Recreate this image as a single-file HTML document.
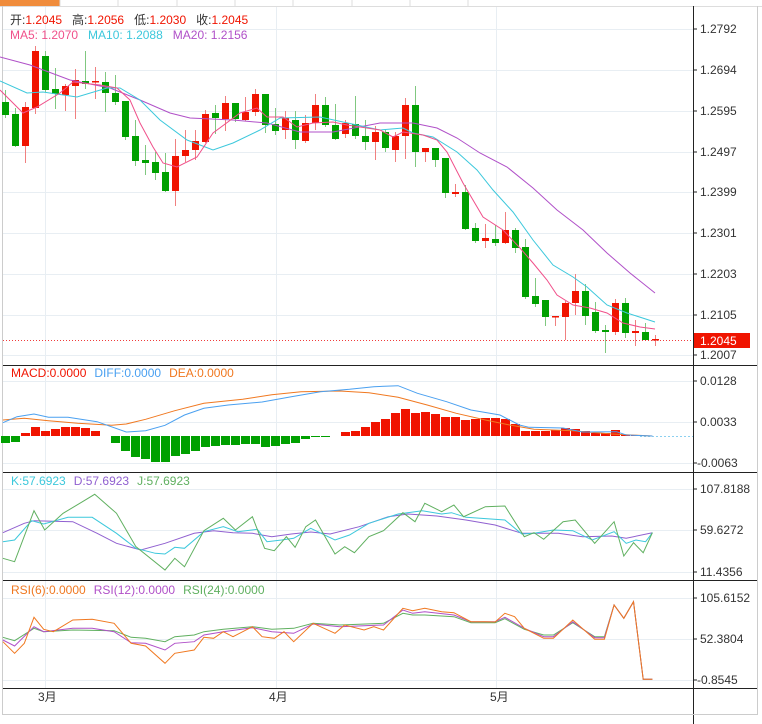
<!DOCTYPE html>
<html><head><meta charset="utf-8"><style>
body{margin:0;background:#fff;width:762px;height:724px;overflow:hidden;font-family:"Liberation Sans","Noto Sans CJK SC",sans-serif}
svg{position:absolute;left:0;top:0}
text{font-family:"Liberation Sans","Noto Sans CJK SC",sans-serif;font-size:12px}
</style></head><body>
<svg id="s" width="762" height="724" xmlns="http://www.w3.org/2000/svg">
<rect x="0" y="0" width="762" height="724" fill="#fff"/>
<rect x="0" y="0" width="60" height="6" fill="#f08c3c"/>
<line x1="60" y1="0" x2="60" y2="6" stroke="#ddd"/><line x1="118" y1="0" x2="118" y2="6" stroke="#ddd"/><line x1="177" y1="0" x2="177" y2="6" stroke="#ddd"/><line x1="235" y1="0" x2="235" y2="6" stroke="#ddd"/><line x1="293" y1="0" x2="293" y2="6" stroke="#ddd"/><line x1="352" y1="0" x2="352" y2="6" stroke="#ddd"/><line x1="410" y1="0" x2="410" y2="6" stroke="#ddd"/><line x1="468" y1="0" x2="468" y2="6" stroke="#ddd"/>
<line x1="0" y1="6.5" x2="762" y2="6.5" stroke="#ddd"/>
<line x1="2.5" y1="6" x2="2.5" y2="715" stroke="#ccc"/>
<line x1="757.5" y1="6" x2="757.5" y2="715" stroke="#ccc"/>
<g id="grid" stroke="#e8eef3" stroke-width="1"></g>
<g id="plot"></g>
<!-- axes -->
<line x1="693.5" y1="6" x2="693.5" y2="724" stroke="#222"/>
<line x1="3" y1="365.5" x2="757" y2="365.5" stroke="#222"/>
<line x1="3" y1="472.5" x2="757" y2="472.5" stroke="#222"/>
<line x1="3" y1="580.5" x2="757" y2="580.5" stroke="#222"/>
<line x1="3" y1="688.5" x2="757" y2="688.5" stroke="#222"/>
<line x1="3" y1="714.5" x2="757" y2="714.5" stroke="#ccc"/>
<g fill="#333">
<text x="700" y="33">1.2792</text><text x="700" y="74">1.2694</text><text x="700" y="115">1.2595</text><text x="700" y="156">1.2497</text><text x="700" y="196">1.2399</text><text x="700" y="237">1.2301</text><text x="700" y="278">1.2203</text><text x="700" y="319">1.2105</text><text x="700" y="359">1.2007</text>
<text x="700" y="385">0.0128</text><text x="700" y="426">0.0033</text><text x="697" y="467">-0.0063</text>
<text x="700" y="493">107.8188</text><text x="700" y="534">59.6272</text><text x="700" y="576">11.4356</text>
<text x="700" y="602">105.6152</text><text x="700" y="643">52.3804</text><text x="697" y="684">-0.8545</text>
<text x="38" y="701">3月</text><text x="269" y="701">4月</text><text x="490" y="701">5月</text>
</g>
<g stroke="#222"><line x1="693" y1="29" x2="697" y2="29"/><line x1="693" y1="70" x2="697" y2="70"/><line x1="693" y1="111" x2="697" y2="111"/><line x1="693" y1="152" x2="697" y2="152"/><line x1="693" y1="192" x2="697" y2="192"/><line x1="693" y1="233" x2="697" y2="233"/><line x1="693" y1="274" x2="697" y2="274"/><line x1="693" y1="315" x2="697" y2="315"/><line x1="693" y1="355" x2="697" y2="355"/><line x1="693" y1="381" x2="697" y2="381"/><line x1="693" y1="422" x2="697" y2="422"/><line x1="693" y1="463" x2="697" y2="463"/><line x1="693" y1="489" x2="697" y2="489"/><line x1="693" y1="530" x2="697" y2="530"/><line x1="693" y1="572" x2="697" y2="572"/><line x1="693" y1="598" x2="697" y2="598"/><line x1="693" y1="639" x2="697" y2="639"/><line x1="693" y1="680" x2="697" y2="680"/></g>
<line x1="3" y1="340.5" x2="693" y2="340.5" stroke="#f03c3c" stroke-dasharray="1,2"/>
<rect x="694" y="333" width="56" height="15" fill="#f01400"/>
<text x="700" y="345" fill="#fff">1.2045</text>
<text x="10" y="24"><tspan fill="#333">开:</tspan><tspan fill="#f01400">1.2045</tspan><tspan fill="#333" dx="10">高:</tspan><tspan fill="#f01400">1.2056</tspan><tspan fill="#333" dx="10">低:</tspan><tspan fill="#f01400">1.2030</tspan><tspan fill="#333" dx="10">收:</tspan><tspan fill="#f01400">1.2045</tspan></text>
<text x="10" y="39"><tspan fill="#f0508a">MA5: 1.2070</tspan><tspan fill="#3cc8dc" dx="10">MA10: 1.2088</tspan><tspan fill="#b050c8" dx="10">MA20: 1.2156</tspan></text>
<text x="11" y="377" font-size="11"><tspan fill="#f01400">MACD:0.0000</tspan><tspan fill="#4aa0f0" dx="8">DIFF:0.0000</tspan><tspan fill="#f07820" dx="8">DEA:0.0000</tspan></text>
<text x="11" y="485" font-size="11"><tspan fill="#3cc8dc">K:57.6923</tspan><tspan fill="#9060d0" dx="8">D:57.6923</tspan><tspan fill="#60b060" dx="8">J:57.6923</tspan></text>
<text x="11" y="594" font-size="11"><tspan fill="#f07820">RSI(6):0.0000</tspan><tspan fill="#b050c8" dx="8">RSI(12):0.0000</tspan><tspan fill="#60b060" dx="8">RSI(24):0.0000</tspan></text>
</svg>
<script>
var NS="http://www.w3.org/2000/svg",plot=document.getElementById('plot'),grid=document.getElementById('grid');
function el(p,t,a){var e=document.createElementNS(NS,t);for(var k in a)e.setAttribute(k,a[k]);p.appendChild(e);return e;}
[29,70,111,152,192,233,274,315,355,381,422,463,489,530,572,598,639,680].forEach(function(y){el(grid,'line',{x1:3,x2:693,y1:y+.5,y2:y+.5});});
[45,276,496].forEach(function(x){el(grid,'line',{x1:x+.5,x2:x+.5,y1:7,y2:688});});
// candles: color(1 red,0 green), bodyTop, bodyBot, wickTop, wickBot
var C=[[0,102,115,90,118],[0,114,146,108,147],[1,107,146,102,163],[1,51,108,46,114],[0,56,90,51,92],[0,89,94,68,109],[1,86,95,84,111],[1,80,86,69,119],[0,81,84,51,89],[1,81,82,67,99],[0,82,93,72,112],[0,93,102,75,105],[0,101,137,101,140],[0,136,161,120,166],[0,160,163,145,175],[0,162,173,152,180],[0,172,191,153,192],[1,156,191,139,206],[1,150,156,130,162],[1,141,150,130,160],[1,114,142,110,143],[0,113,118,105,134],[1,103,119,96,131],[0,103,119,103,122],[1,112,120,97,121],[1,94,112,89,116],[0,94,125,94,133],[0,124,131,108,135],[1,118,130,111,139],[0,120,140,111,149],[1,123,141,115,143],[1,105,123,94,130],[0,105,125,97,127],[0,125,139,104,140],[1,123,134,120,138],[0,124,136,96,139],[0,136,142,120,150],[1,132,142,126,160],[0,132,148,130,152],[1,136,150,132,162],[1,105,136,98,159],[0,105,152,86,167],[1,148,152,148,162],[0,148,160,148,167],[0,158,193,158,198],[1,192,194,184,197],[0,192,229,185,230],[0,228,241,223,243],[1,238,241,224,248],[0,239,243,225,246],[1,230,243,212,244],[0,230,248,228,253],[0,247,297,239,299],[0,296,304,278,307],[0,300,317,300,326],[1,316,317,316,326],[1,303,317,301,340],[1,291,303,274,315],[0,291,316,284,325],[0,312,331,302,333],[0,330,332,325,353],[1,303,332,299,335],[0,303,333,298,338],[1,331,333,320,346],[0,332,340,323,341],[1,339,340,335,346]];
C.forEach(function(c,i){var x=5.5+10*i,col=c[0]?'#f01400':'#00a000',wc=c[0]?'#f08080':'#80c880';
el(plot,'line',{x1:x,x2:x,y1:c[3],y2:c[4],stroke:wc});
el(plot,'rect',{x:x-3.5,y:c[1],width:7,height:Math.max(1.5,c[2]-c[1]),fill:col});});
function pl(pts,col,conv){var s=pts.map(function(p){return conv?[(p[0]/2.06).toFixed(1),(p[1]/3+360).toFixed(1)]:p;}).join(' ');el(plot,'polyline',{points:s,fill:'none',stroke:col,'stroke-width':1});}
pl([[0,57],[30,65],[70,80],[110,88],[140,100],[170,113],[190,118],[233,120],[267,123],[300,132],[333,132],[380,123],[413,123],[437,128],[457,138],[480,153],[507,167],[533,188],[557,210],[583,230],[607,253],[630,273],[655,293]],'#b050c8');
pl([[0,81],[27,93],[43,92],[77,97],[107,88],[120,88],[140,100],[160,120],[187,140],[213,150],[233,143],[260,130],[280,118],[320,117],[380,130],[403,128],[413,133],[433,137],[457,152],[477,170],[493,190],[513,212],[533,240],[553,265],[573,277],[587,287],[607,305],[627,313],[655,322]],'#3cc8dc');
pl([[0,90],[10,100],[23,113],[37,107],[60,93],[73,82],[100,85],[117,88],[130,100],[140,123],[153,147],[163,163],[177,167],[197,157],[213,133],[240,113],[257,108],[267,117],[283,117],[297,127],[313,123],[333,122],[347,125],[380,130],[393,137],[403,132],[423,135],[437,140],[447,152],[463,183],[483,217],[503,230],[520,248],[533,263],[547,280],[557,295],[573,305],[590,308],[607,313],[623,323],[640,327],[655,329]],'#f0508a');
// MACD histogram
var H=[443,442,433,427,431,429,427,427,428,431,436,443,451,457,459,462,462,456,454,451,447,446,445,445,444,444,447,446,444,443,439,437,437,436,432,431,427,422,419,413,409,413,412,414,417,417,420,419,418,418,419,424,431,431,431,430,428,429,431,433,433,430,435,435,436,436];
H.forEach(function(y,i){var x=5.5+10*i;if(Math.abs(y-436)<1)return;var t=Math.min(y,436),h=Math.abs(y-436);el(plot,'rect',{x:x-4.5,y:t,width:9,height:h,fill:y<436?'#f01400':'#00a000'});});
el(plot,'line',{x1:640,x2:693,y1:436.5,y2:436.5,stroke:'#8cd0f0','stroke-dasharray':'2,2'});
pl([[6,180],[50,175],[100,182],[160,190],[230,196],[260,192],[300,178],[360,152],[420,130],[500,118],[560,104],[620,95],[700,93],[760,98],[820,112],[880,135],[940,160],[1000,180],[1050,195],[1100,208],[1180,212],[1260,222],[1344,228]],'#f07820',1);
pl([[6,188],[35,170],[70,162],[100,172],[140,172],[200,185],[260,216],[300,212],[340,196],[380,165],[420,145],[470,135],[540,126],[600,110],[660,95],[720,88],[770,80],[820,77],[860,100],[920,125],[970,150],[1030,165],[1070,195],[1090,202],[1160,204],[1200,216],[1270,215],[1290,225],[1344,228]],'#4aa0f0',1);
// KDJ
pl([[6,518],[50,490],[70,482],[150,485],[200,520],[240,550],[290,570],[340,550],[400,520],[440,512],[480,518],[520,520],[560,530],[600,522],[640,516],[680,522],[740,500],[800,470],[840,462],[900,468],[960,480],[1020,495],[1075,520],[1150,520],[1200,530],[1260,528],[1290,535],[1344,518]],'#9060d0',1);
pl([[6,545],[30,540],[65,482],[90,492],[140,472],[190,472],[240,520],[280,565],[320,580],[340,582],[360,562],[380,565],[420,515],[460,500],[490,515],[530,508],[550,545],[580,540],[605,535],[640,505],[690,540],[720,525],[760,490],[820,462],[870,452],[910,462],[930,458],[960,472],[1040,480],[1075,522],[1100,520],[1140,510],[1180,512],[1220,540],[1265,515],[1290,550],[1310,540],[1330,545],[1344,518]],'#3cc8dc',1);
pl([[6,595],[30,605],[70,452],[92,510],[130,460],[170,425],[195,403],[240,460],[280,560],[340,630],[360,595],[380,620],[420,512],[460,475],[485,510],[520,470],[545,565],[565,572],[590,530],[608,562],[630,500],[650,480],[690,582],[710,560],[730,578],[760,530],[790,512],[830,458],[855,485],[875,430],[910,455],[935,435],[955,470],[1000,440],[1040,438],[1080,530],[1100,518],[1120,538],[1160,485],[1185,480],[1225,550],[1265,485],[1285,588],[1305,548],[1325,578],[1344,518]],'#60b060',1);
// RSI
pl([[6,832],[30,842],[70,805],[90,815],[150,810],[235,812],[270,832],[300,835],[340,845],[360,830],[400,825],[420,815],[460,808],[520,800],[560,808],[605,805],[645,790],[700,795],[790,790],[830,760],[850,765],[875,765],[935,770],[970,788],[1020,788],[1040,776],[1080,808],[1120,825],[1140,825],[1180,788],[1225,830],[1245,830],[1265,735],[1285,775],[1305,725],[1325,958],[1344,958]],'#60b060',1);
pl([[6,840],[30,858],[70,800],[90,815],[150,805],[190,805],[235,815],[270,848],[300,850],[340,870],[360,850],[400,845],[420,825],[460,815],[520,803],[560,815],[605,820],[645,792],[700,800],[790,795],[830,750],[850,760],[875,755],[935,765],[970,785],[1020,785],[1040,772],[1080,805],[1120,830],[1140,830],[1180,785],[1225,833],[1245,833],[1265,735],[1285,775],[1305,725],[1325,958],[1344,958]],'#b050c8',1);
pl([[6,845],[30,880],[50,850],[70,772],[90,808],[110,815],[150,780],[190,778],[235,790],[270,850],[300,858],[340,910],[360,880],[400,870],[420,832],[440,835],[460,815],[480,830],[520,800],[540,830],[565,835],[585,815],[605,845],[645,790],[690,820],[710,795],[750,810],[770,800],[790,810],[830,745],[850,752],[875,745],[910,755],[935,758],[970,785],[1000,785],[1020,786],[1040,760],[1060,770],[1080,805],[1120,835],[1140,835],[1180,780],[1225,838],[1245,838],[1265,735],[1285,775],[1305,725],[1325,958],[1344,958]],'#f07820',1);
</script>
</body></html>
